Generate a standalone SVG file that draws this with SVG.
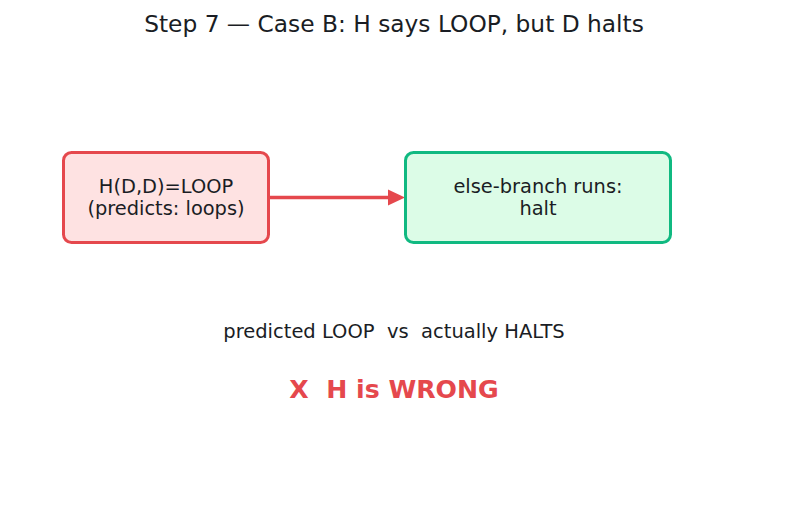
<svg xmlns="http://www.w3.org/2000/svg" width="787" height="510" viewBox="0 0 787 510">
<defs>
<style>
text{font-family:"DejaVu Sans","Liberation Sans",sans-serif;fill:#1a1d24;text-anchor:middle;white-space:pre}
.t{font-size:23.3px}
.n{font-size:19.4px}
.s{font-size:19.5px}
.w{font-size:25.2px;font-weight:bold;fill:#e5484d}
</style>
</defs>
<rect width="787" height="510" fill="#ffffff"/>
<text class="t" x="394" y="32">Step 7 — Case B: H says LOOP, but D halts</text>
<g id="connectors">
<line x1="269" y1="197.5" x2="390" y2="197.5" stroke="#e5484d" stroke-width="3.5"/>
<path d="M388,189.5L405,197.5L388,205.5z" fill="#e5484d"/>
</g>
<g id="node-h">
<rect x="63.5" y="152.5" width="205" height="90" rx="8" fill="#fee2e2" stroke="#e5484d" stroke-width="3"/>
<text class="n" x="166" y="193">H(D,D)=LOOP</text>
<text class="n" x="166" y="215">(predicts: loops)</text>
</g>
<g id="node-else">
<rect x="405.5" y="152.5" width="265" height="90" rx="8" fill="#dcfce7" stroke="#10b981" stroke-width="3"/>
<text class="n" x="538" y="193">else-branch runs:</text>
<text class="n" x="538" y="215">halt</text>
</g>
<text class="s" x="394" y="338">predicted LOOP  vs  actually HALTS</text>
<text class="w" x="394" y="398">X  H is WRONG</text>
</svg>
